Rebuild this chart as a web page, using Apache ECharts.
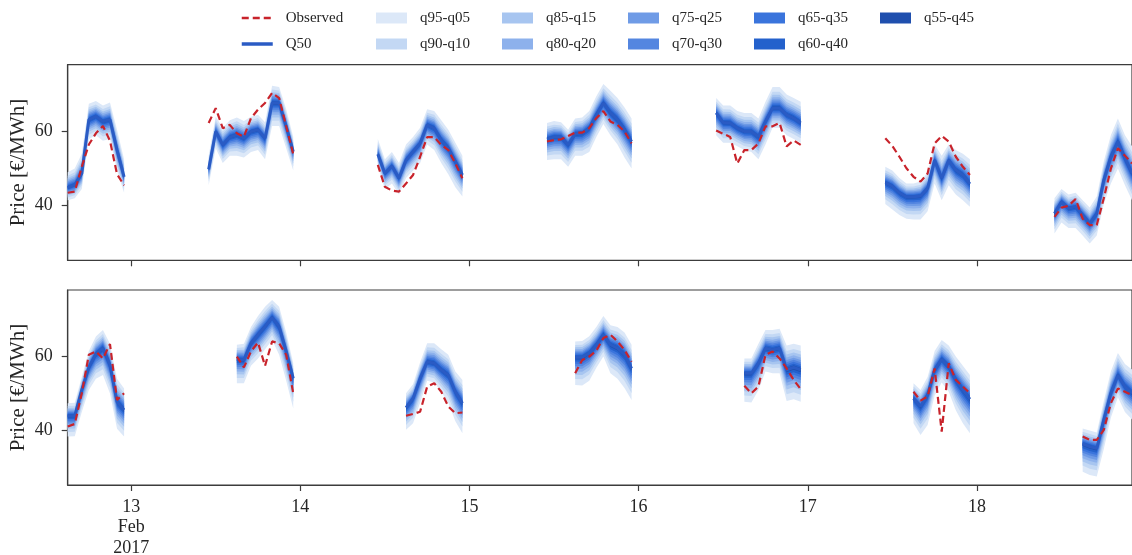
<!DOCTYPE html>
<html><head><meta charset="utf-8">
<script src="https://cdn.jsdelivr.net/npm/echarts@6/dist/echarts.min.js"></script>
<style>html,body{margin:0;padding:0;background:#fff}#c{width:1132px;height:555px}</style>
</head><body><div id="c"></div>
<script>
// ---------------- DATA ----------------
const days = [12, 13, 14, 15, 16, 17, 18];          // Feb 2017, one segment per day
const topStartHour = [15, 11, 11, 11, 11, 11, 11];  // first hour of each segment (top panel)
const botStartHour = [15, 15, 15, 15, 15, 15, 15];  // first hour of each segment (bottom panel)
const tickHours = [24, 48, 72, 96, 120, 144];       // hours since Feb 12 00:00
const tickLabels = ['13\nFeb\n2017', '14', '15', '16', '17', '18'];
const yTicks = [40, 60];

const bandNames = ['q95-q05','q90-q10','q85-q15','q80-q20','q75-q25','q70-q30','q65-q35','q60-q40','q55-q45'];
const bandZ = [1.645, 1.282, 1.036, 0.842, 0.674, 0.524, 0.385, 0.253, 0.126]; // normal quantile of each band edge
const bandColors = ['#dce8f8','#c3d8f4','#a7c5f0','#8db1ec','#6f9be6','#5486e0','#3a74dc','#2461cc','#1f4fae'];

// top panel
const topQ50 = [
  [44.9,45.6,48.7,63.2,64.1,62.7,63.2,55.0,47.8],
  [49.8,60.0,56.4,58.5,59.1,58.2,60.0,60.5,58.2,67.7,67.7,61.4,54.6],
  [53.9,48.7,50.7,47.4,52.3,54.6,56.8,61.8,60.9,57.7,55.5,51.9,48.3],
  [57.9,58.5,58.5,56.4,59.4,59.5,60.9,64.5,67.7,65.0,63.2,60.5,57.3],
  [65.0,62.4,62.3,60.9,60.0,60.0,58.6,62.7,66.3,66.3,64.5,63.6,62.3],
  [46.2,45.3,43.5,42.4,42.4,42.6,44.7,52.3,47.4,52.3,49.6,48.3,45.9],
  [37.9,41.1,39.3,39.7,37.5,35.2,37.9,46.9,53.2,57.3,52.8,48.7]
];
const topHi = [
  [49.0,50.0,54.0,67.5,68.2,67.0,67.8,60.5,52.5],
  [53.5,64.0,61.0,63.0,63.8,62.8,64.0,64.5,62.5,72.3,72.0,66.0,58.5],
  [58.0,52.5,54.5,51.5,56.5,58.5,61.0,66.0,65.5,63.0,60.5,57.0,53.5],
  [62.3,62.8,62.5,60.5,63.5,63.8,65.5,69.5,72.8,71.0,69.0,66.5,63.5],
  [69.0,67.0,67.0,65.5,65.0,65.0,63.5,68.0,72.0,72.0,70.0,69.0,68.0],
  [50.5,49.5,47.5,46.0,46.0,46.5,49.0,56.5,53.5,56.5,55.0,54.0,52.5],
  [42.0,44.5,43.0,43.5,41.5,39.5,42.5,52.0,59.0,63.5,59.0,56.0]
];
const topLo = [
  [41.5,42.0,44.5,58.0,59.0,57.5,58.0,49.5,43.5],
  [45.5,55.5,51.5,53.5,53.5,53.0,54.5,55.0,52.5,61.5,61.5,55.5,49.5],
  [50.5,44.5,46.0,43.0,47.5,49.5,51.5,56.5,55.0,51.5,48.5,45.0,42.5],
  [52.3,52.5,52.5,50.5,53.5,53.5,54.5,58.5,62.0,59.0,56.5,53.0,50.0],
  [59.0,57.0,57.0,56.0,55.0,54.5,52.5,56.5,61.0,61.0,59.0,58.0,57.0],
  [40.5,39.0,37.5,36.5,36.3,36.3,38.5,46.0,41.5,45.5,43.0,41.5,39.7],
  [32.5,35.5,34.0,34.0,32.0,29.8,32.0,40.5,46.0,50.0,45.5,41.5]
];
const topObs = [
  [43.5,43.8,50.5,56.5,59.5,61.5,57.5,48.5,45.5],
  [62.3,66.3,60.9,61.8,59.5,58.6,63.6,65.9,67.7,70.4,69.0,61.4,53.9],
  [51.0,45.1,44.1,43.8,46.0,48.3,53.2,58.5,58.5,56.4,55.0,51.4,47.4],
  [57.3,57.7,57.9,58.8,59.7,59.7,60.9,63.6,65.5,62.7,61.8,60.0,56.8],
  [60.3,59.4,58.5,51.4,55.0,55.0,56.8,61.4,61.4,62.3,56.0,57.6,56.4],
  [58.2,56.1,53.2,50.1,47.8,46.5,48.7,56.8,58.8,57.3,53.2,50.5,48.3],
  [37.0,39.5,40.0,41.8,36.5,34.8,34.8,42.0,50.0,55.5,53.5,51.4]
];

// bottom panel
const botQ50 = [
  [44.0,44.0,51.0,57.1,60.7,62.3,57.7,47.8,45.6],
  [59.3,59.1,63.6,65.9,68.1,70.6,68.1,61.4,54.1],
  [46.2,48.7,54.1,58.6,58.2,56.4,55.0,50.5,47.4],
  [59.8,59.8,61.0,63.2,65.9,63.2,62.3,60.5,56.8],
  [55.5,55.5,58.2,62.3,61.8,62.3,56.4,57.1,56.4],
  [48.7,46.5,49.6,56.4,59.3,57.3,53.7,51.0,48.5],
  [36.4,35.7,35.2,42.9,50.1,55.0,51.9,50.1]
];
const botHi = [
  [47.4,47.5,54.5,61.5,65.4,67.2,63.5,54.0,51.4],
  [63.2,63.5,68.0,71.0,73.5,75.3,73.5,66.5,58.2],
  [50.1,52.5,58.5,63.6,63.6,62.0,60.5,56.0,53.7],
  [64.1,64.2,65.5,68.0,71.0,68.5,68.0,66.5,63.2],
  [59.5,59.5,63.5,67.2,67.2,67.5,63.0,63.5,63.0],
  [52.8,51.0,54.5,61.5,64.5,63.0,60.0,57.5,55.0],
  [40.6,40.0,39.5,48.0,56.0,61.0,58.0,56.5]
];
const botLo = [
  [38.4,38.5,45.0,51.0,54.0,55.0,50.0,40.5,38.4],
  [52.8,52.8,57.5,59.5,62.0,64.5,60.5,53.5,46.0],
  [40.2,42.0,47.5,53.5,53.0,50.5,47.5,42.5,39.3],
  [52.3,52.2,53.5,57.0,60.0,55.5,54.0,51.5,48.3],
  [47.8,47.6,51.0,56.0,55.5,55.5,48.0,48.5,47.8],
  [42.0,38.8,41.5,49.5,53.0,50.5,45.5,42.0,39.3],
  [28.9,28.0,27.6,35.0,43.5,49.0,45.0,43.0]
];
const botObs = [
  [41.1,41.8,50.1,60.5,61.4,59.5,63.4,48.3,50.1],
  [60.0,57.1,61.4,63.8,57.5,64.1,63.6,60.5,50.1],
  [44.0,44.5,45.1,51.9,52.8,50.5,46.5,44.7,44.9],
  [55.5,59.1,60.0,61.6,65.0,65.9,64.1,61.8,58.6],
  [52.1,50.1,51.9,60.5,61.4,59.5,56.8,53.7,51.2],
  [50.5,48.1,49.2,56.8,39.7,58.2,53.7,51.9,50.1],
  [38.4,37.5,37.5,40.2,47.4,51.4,50.5,49.6]
];

// ---------------- BUILD ----------------
const FONT = '"Liberation Serif", "DejaVu Serif", serif';
const TXT = '#262626';
const AX = '#3c3c3c';

function xOf(seg, i, starts) { return (days[seg] - 12) * 24 + starts[seg] + i; }

function buildLine(arrs, starts) {
  const out = [];
  arrs.forEach((seg, s) => {
    if (s > 0) out.push([xOf(s, 0, starts) - 0.5, '-']);
    seg.forEach((v, i) => out.push([xOf(s, i, starts), v]));
  });
  return out;
}

function panelSeries(p, q50, hi, lo, obs, starts) {
  const ser = [];
  bandNames.forEach((nm, k) => {
    const r = bandZ[k] / bandZ[0];
    ser.push({
      type: 'custom', name: nm, xAxisIndex: p, yAxisIndex: p,
      coordinateSystem: 'cartesian2d',
      color: bandColors[k], itemStyle: { color: bandColors[k] },
      data: q50.map((seg, s) => [xOf(s, 0, starts), seg[0], s]),
      encode: { x: 0, y: 1 },
      silent: true, animation: false, z: 2,
      renderItem: function (params, api) {
        const s = api.value(2);
        const m = q50[s], h = hi[s], l = lo[s];
        const pts = [];
        for (let i = 0; i < m.length; i++) pts.push(api.coord([xOf(s, i, starts), m[i] + (h[i] - m[i]) * r]));
        for (let i = m.length - 1; i >= 0; i--) pts.push(api.coord([xOf(s, i, starts), m[i] - (m[i] - l[i]) * r]));
        return { type: 'polygon', shape: { points: pts }, style: { fill: bandColors[k] } };
      }
    });
  });
  ser.push({
    type: 'line', name: 'Q50', xAxisIndex: p, yAxisIndex: p,
    data: buildLine(q50, starts),
    symbol: 'none', showSymbol: false, color: '#2a5bc4',
    lineStyle: { width: 3, color: '#2a5bc4' }, silent: true, animation: false, z: 3
  });
  ser.push({
    type: 'line', name: 'Observed', xAxisIndex: p, yAxisIndex: p,
    data: buildLine(obs, starts),
    symbol: 'none', showSymbol: false, color: '#c8232b',
    lineStyle: { width: 2.2, color: '#c8232b', type: [7, 4] }, silent: true, animation: false, z: 4
  });
  return ser;
}

const grids = [
  { left: 67.7, right: 0, top: 64.7, height: 195.6 },
  { left: 67.7, right: 0, top: 290, height: 195 }
].map(g => Object.assign(g, {
  show: true, borderColor: AX, borderWidth: 1.2, backgroundColor: 'transparent',
  containLabel: false, outerBoundsMode: 'none'
}));

const xAxes = [0, 1].map(p => ({
  type: 'value', gridIndex: p, min: 15, max: 166,
  axisLine: { show: true, lineStyle: { color: AX, width: 1.2 } },
  axisTick: { show: true, customValues: tickHours, length: 6, lineStyle: { color: AX, width: 1.2 } },
  axisLabel: {
    show: p === 1, customValues: tickHours, margin: 12,
    formatter: v => tickLabels[tickHours.indexOf(v)] || '',
    fontFamily: FONT, fontSize: 18, color: TXT, lineHeight: 20.5
  },
  splitLine: { show: false }
}));

const yAxes = [0, 1].map(p => ({
  type: 'value', gridIndex: p, min: 25.3, max: 78,
  axisLine: { show: true, lineStyle: { color: AX, width: 1.2 } },
  axisTick: { show: true, customValues: yTicks, length: 6, lineStyle: { color: AX, width: 1.2 } },
  axisLabel: { customValues: yTicks, margin: 15, fontFamily: FONT, fontSize: 18, color: TXT },
  splitLine: { show: false },
  name: 'Price [€/MWh]', nameLocation: 'middle', nameGap: 39, nameMoveOverlap: false,
  nameTextStyle: { fontFamily: FONT, fontSize: 21, color: TXT }
}));

const noSym = { opacity: 0 };
const legendCols = [
  [{ name: 'Observed', itemStyle: noSym, lineStyle: { width: 2.5 } },
   { name: 'Q50', itemStyle: noSym, lineStyle: { width: 3.5 } }],
  [{ name: 'q95-q05', icon: 'rect' }, { name: 'q90-q10', icon: 'rect' }],
  [{ name: 'q85-q15', icon: 'rect' }, { name: 'q80-q20', icon: 'rect' }],
  [{ name: 'q75-q25', icon: 'rect' }, { name: 'q70-q30', icon: 'rect' }],
  [{ name: 'q65-q35', icon: 'rect' }, { name: 'q60-q40', icon: 'rect' }],
  [{ name: 'q55-q45', icon: 'rect' }]
];
const legendLeft = [240, 376, 502, 628, 754, 880];
const legends = legendCols.map((d, i) => ({
  data: d, orient: 'vertical', left: legendLeft[i], top: 10.5,
  itemWidth: 31, itemHeight: 11, itemGap: 11, padding: 0,
  selectedMode: false,
  textStyle: { fontFamily: FONT, fontSize: 15, color: TXT, padding: [0, 0, 0, 8] }
}));

const chart = echarts.init(document.getElementById('c'), null, { renderer: 'canvas' });
chart.setOption({
  animation: false,
  backgroundColor: '#fff',
  grid: grids,
  xAxis: xAxes,
  yAxis: yAxes,
  legend: legends,
  series: [].concat(
    panelSeries(0, topQ50, topHi, topLo, topObs, topStartHour),
    panelSeries(1, botQ50, botHi, botLo, botObs, botStartHour)
  )
});
</script></body></html>
